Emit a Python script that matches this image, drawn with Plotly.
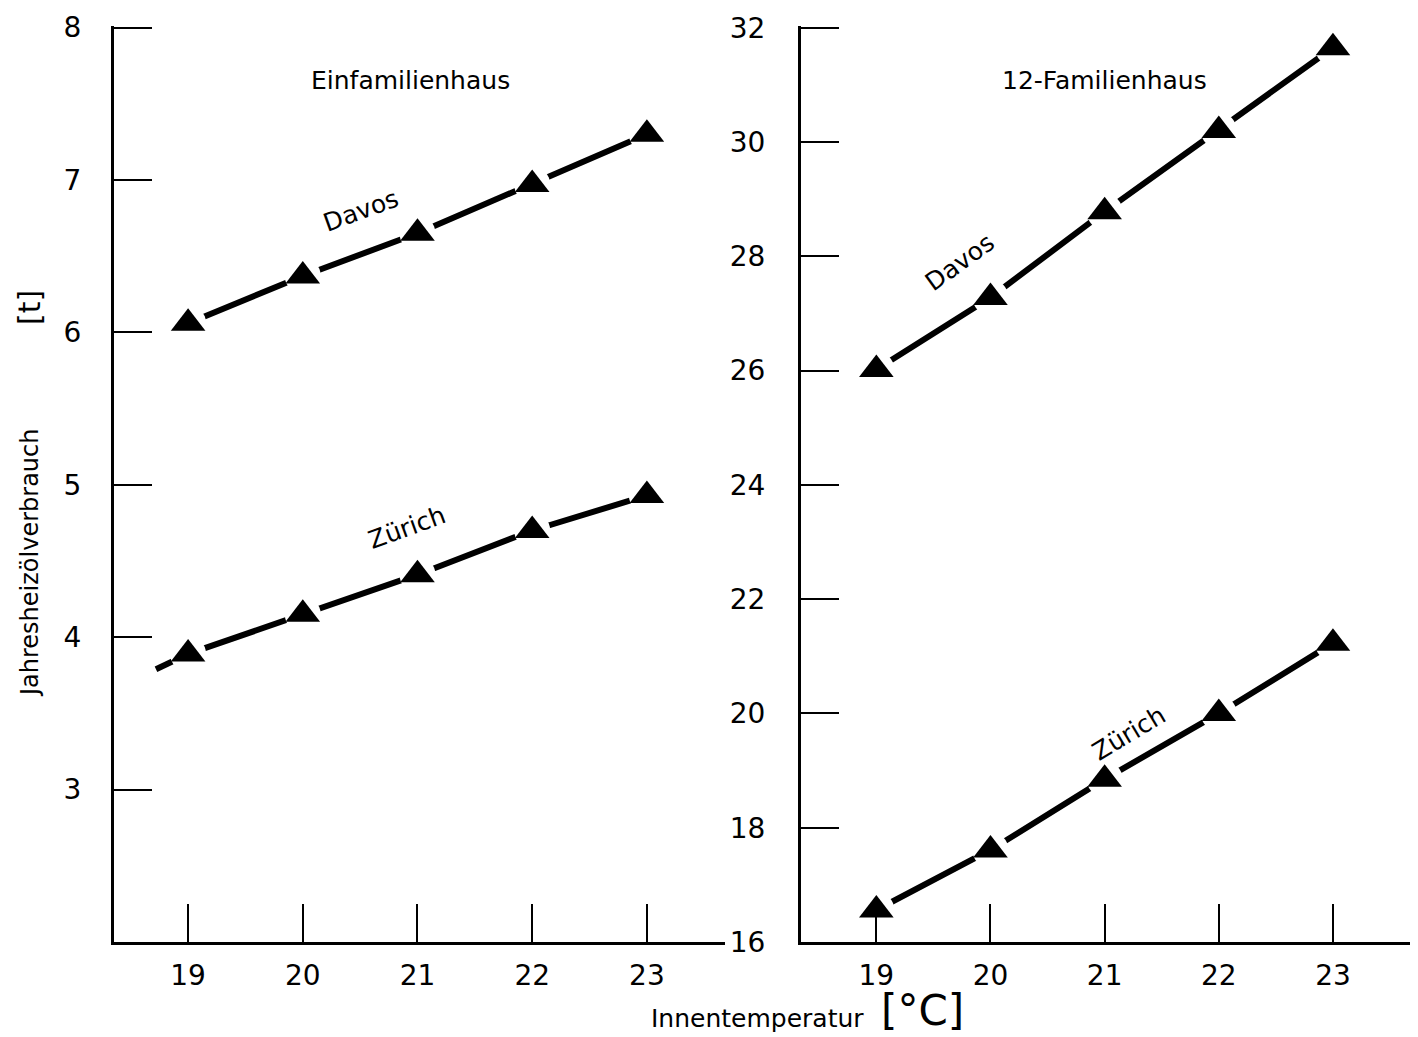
import plotly.graph_objects as go

# Innentemperatur [°C]
temps = [19, 20, 21, 22, 23]

# Einfamilienhaus: Jahresheizölverbrauch [t]
efh_davos = [6.06, 6.37, 6.65, 6.97, 7.30]
efh_zuerich = [3.89, 4.15, 4.41, 4.70, 4.93]
# short extrapolated stub left of 19 °C (Zürich, Einfamilienhaus)
efh_zuerich_stub_x = [18.72, 19]
efh_zuerich_stub_y = [3.79, 3.89]

# 12-Familienhaus: Jahresheizölverbrauch [t]
mfh_davos = [26.02, 27.28, 28.78, 30.20, 31.65]
mfh_zuerich = [16.56, 17.61, 18.85, 20.00, 21.23]

left_yticks = [3, 4, 5, 6, 7, 8]
right_yticks = [16, 18, 20, 22, 24, 26, 28, 30, 32]

FONT = "DejaVu Sans"
W, H = 1418, 1037

fig = go.Figure()


def add_series(xs, ys, xa, ya):
    # thick connecting line
    fig.add_trace(go.Scatter(x=xs, y=ys, mode="lines", xaxis=xa, yaxis=ya,
                             line=dict(color="black", width=6),
                             showlegend=False, hoverinfo="skip"))
    # white halo to break the line around each marker
    fig.add_trace(go.Scatter(x=xs, y=ys, mode="markers", xaxis=xa, yaxis=ya,
                             marker=dict(symbol="circle", size=36, color="white"),
                             showlegend=False, hoverinfo="skip"))
    # solid triangles
    fig.add_trace(go.Scatter(x=xs, y=ys, mode="markers", xaxis=xa, yaxis=ya,
                             marker=dict(symbol="triangle-up", size=30, color="black"),
                             showlegend=False))


fig.add_trace(go.Scatter(x=efh_zuerich_stub_x, y=efh_zuerich_stub_y, mode="lines",
                         xaxis="x", yaxis="y", line=dict(color="black", width=6),
                         showlegend=False, hoverinfo="skip"))
add_series(temps, efh_davos, "x", "y")
add_series(temps, efh_zuerich, "x", "y")
add_series(temps, mfh_davos, "x2", "y2")
add_series(temps, mfh_zuerich, "x2", "y2")

ydom = [(H - 942) / H, (H - 26) / H]

axis_common = dict(
    showgrid=False, zeroline=False, showline=True, linecolor="black", linewidth=3,
    ticks="inside", ticklen=38, tickwidth=2, tickcolor="black",
    tickfont=dict(family=FONT, size=28, color="black"),
    mirror=False, automargin=False,
)

fig.update_layout(
    width=W, height=H,
    margin=dict(l=0, r=0, t=0, b=0),
    paper_bgcolor="white", plot_bgcolor="white",
    showlegend=False,
    xaxis=dict(domain=[114 / W, 725 / W], range=[18.354, 23.681],
               tickvals=temps, ticktext=[str(t) for t in temps],
               anchor="y", ticklabelstandoff=6, **axis_common),
    yaxis=dict(domain=ydom, range=[2, 8.01], tickvals=left_yticks,
               ticktext=[str(v) for v in left_yticks],
               anchor="x", ticklabelstandoff=24, **axis_common),
    xaxis2=dict(domain=[801 / W, 1410 / W], range=[18.34, 23.675],
                tickvals=temps, ticktext=[str(t) for t in temps],
                anchor="y2", ticklabelstandoff=6, **axis_common),
    yaxis2=dict(domain=ydom, range=[16, 32.03], tickvals=right_yticks,
                ticktext=[str(v) for v in right_yticks],
                anchor="x2", ticklabelstandoff=27, **axis_common),
)

txt = dict(family=FONT, size=25, color="black")
annotations = [
    dict(text="Einfamilienhaus", x=20.94, y=7.65, xref="x", yref="y", font=txt),
    dict(text="12-Familienhaus", x=21.0, y=31.07, xref="x2", yref="y2", font=txt),
    dict(text="Davos", x=20.51, y=6.80, xref="x", yref="y", textangle=-20, font=txt),
    dict(text="Zürich", x=20.91, y=4.72, xref="x", yref="y", textangle=-20, font=txt),
    dict(text="Davos", x=19.73, y=27.89, xref="x2", yref="y2", textangle=-36, font=txt),
    dict(text="Zürich", x=21.21, y=19.65, xref="x2", yref="y2", textangle=-31, font=txt),
    dict(text="Jahresheizölverbrauch", x=30 / W, y=1 - 563 / H, xref="paper", yref="paper",
         textangle=-90, font=dict(family=FONT, size=24, color="black")),
    dict(text="[t]", x=30 / W, y=1 - 307 / H, xref="paper", yref="paper",
         textangle=-90, font=dict(family=FONT, size=30, color="black")),
    dict(text="Innentemperatur", x=758 / W, y=1 - 1018 / H, xref="paper", yref="paper",
         font=dict(family=FONT, size=25, color="black")),
    dict(text="[°C]", x=922 / W, y=1 - 1010 / H, xref="paper", yref="paper",
         font=dict(family=FONT, size=42, color="black")),
]
for a in annotations:
    a.setdefault("showarrow", False)
    a.setdefault("xanchor", "center")
    a.setdefault("yanchor", "middle")
fig.update_layout(annotations=annotations)

fig.write_html("out.html")
